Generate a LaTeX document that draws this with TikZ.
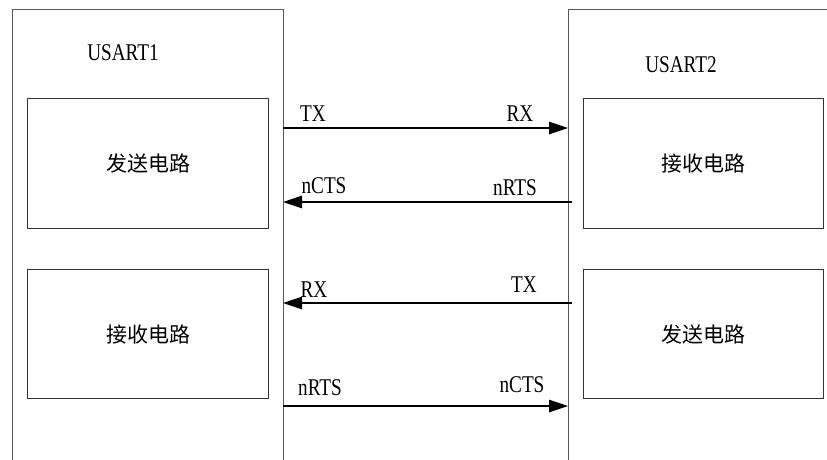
\documentclass[tikz,border=0pt]{standalone}
\usepackage{fontspec}
\newfontfamily\cjk{Noto Sans CJK SC}
\newfontfamily\lat[FakeStretch=0.8]{Liberation Serif}
\usetikzlibrary{arrows.meta}
\begin{document}
\begin{tikzpicture}[x=1pt,y=-1pt,
  outer/.style={draw=black!65, line width=1.3pt, inner sep=0pt, anchor=north west},
  inner/.style={draw=black!80, line width=1.1pt, inner sep=0pt, anchor=north west,
    minimum width=241pt, minimum height=130pt, font=\cjk\fontsize{21}{25}\selectfont},
  lbl/.style={inner sep=0pt, font=\lat\fontsize{24}{28}\selectfont},
  arr/.style={draw=black, line width=1.2pt, -{Triangle[length=19pt,width=12.5pt]}}]
\useasboundingbox (0,0) rectangle (827,459);
\fill[white] (0,0) rectangle (827,459);
% outer device boxes (bottom/right edges outside the page)
\node[outer, minimum width=271pt, minimum height=480pt] (U1) at (12,9) {};
\node[outer, minimum width=280pt, minimum height=480pt] (U2) at (568,9) {};
\node[lbl] (n1) at (123,53) {USART1};
\node[lbl] (n2) at (681,65) {USART2};
% inner circuit boxes
\node[inner] (L1) at (27,98) {发送电路};
\node[inner, minimum height=129pt] (L2) at (27,269) {接收电路};
\node[inner, minimum width=240pt] (R1) at (583,98) {接收电路};
\node[inner, minimum width=240pt, minimum height=129pt] (R2) at (583,269) {发送电路};
% connector end points on the device edges
\coordinate (a1) at (283,128); \coordinate (b1) at (568,128);
\coordinate (a2) at (283,202); \coordinate (b2) at (572,202);
\coordinate (a3) at (283,303); \coordinate (b3) at (572,303);
\coordinate (a4) at (283,406); \coordinate (b4) at (568,406);
\draw[arr] (a1) -- (b1);
\draw[arr] (b2) -- (a2);
\draw[arr] (b3) -- (a3);
\draw[arr] (a4) -- (b4);
% signal labels
\node[lbl] (t1) at (313,114) {TX};
\node[lbl] (t2) at (520,114) {RX};
\node[lbl] (t3) at (324,186) {nCTS};
\node[lbl] (t4) at (515,188) {nRTS};
\node[lbl] (t5) at (314,290) {RX};
\node[lbl] (t6) at (524,285) {TX};
\node[lbl] (t7) at (320,388) {nRTS};
\node[lbl] (t8) at (522,385) {nCTS};
\end{tikzpicture}
\end{document}
